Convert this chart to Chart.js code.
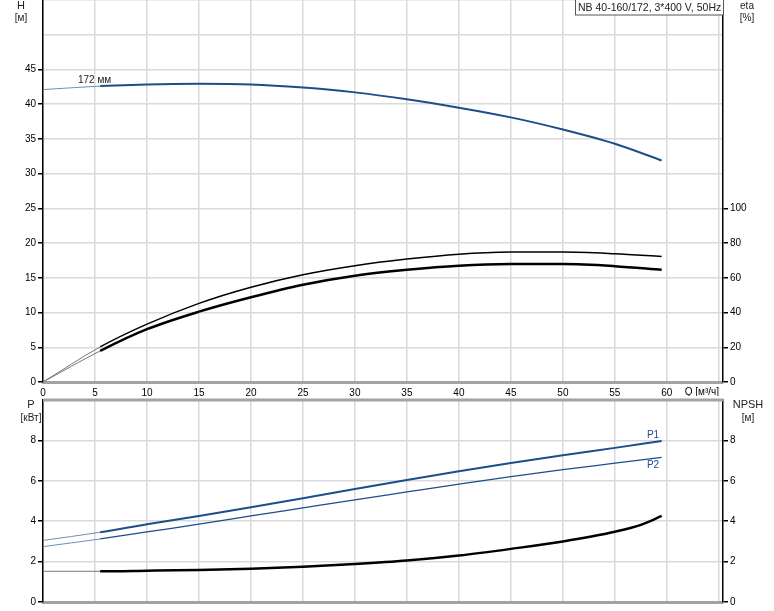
<!DOCTYPE html>
<html>
<head>
<meta charset="utf-8">
<script src="https://cdn.jsdelivr.net/npm/chart.js@4"></script>
<style>
  body { margin: 0; background: #fff; }
  #wrap { position: relative; width: 774px; height: 611px; }
  #top { position: absolute; left: 0; top: 0; }
  #bottom { position: absolute; left: 0; top: 396px; }
</style>
</head>
<body>
<div id="wrap">
  <canvas id="top" width="774" height="396"></canvas>
  <canvas id="bottom" width="774" height="215"></canvas>
</div>
<script>
// flow values, m3/h
const qTop = [0, 5.5, 10, 15, 20, 25, 30, 35, 40, 45, 50, 55, 59.5];
const head = [42.1, 42.6, 42.85, 42.95, 42.85, 42.4, 41.7, 40.7, 39.5, 38.1, 36.35, 34.3, 31.9];
const etaUpper = [0, 20.2, 33.3, 45.3, 54.6, 61.8, 67, 70.8, 73.6, 74.8, 74.9, 73.9, 72.3];
const etaLower = [0, 17.9, 30.4, 40.5, 48.8, 56, 61.2, 64.6, 67, 67.9, 67.9, 66.7, 64.6];

const qBot = [0, 5.5, 10, 15, 20, 25, 30, 35, 40, 45, 50, 55, 59.5];
const p1 = [3.05, 3.45, 3.85, 4.26, 4.69, 5.14, 5.59, 6.04, 6.47, 6.88, 7.27, 7.63, 7.97];
const p2 = [2.74, 3.12, 3.47, 3.85, 4.26, 4.66, 5.06, 5.45, 5.84, 6.21, 6.55, 6.87, 7.16];

const qNpsh = [0, 5.5, 10, 15, 20, 25, 30, 35, 40, 45, 50, 55, 57.5, 59.5];
const npsh = [1.52, 1.52, 1.55, 1.59, 1.65, 1.75, 1.88, 2.05, 2.3, 2.63, 3.0, 3.48, 3.82, 4.26];

const xTicks = [0, 5, 10, 15, 20, 25, 30, 35, 40, 45, 50, 55, 60];
const hTicks = [0, 5, 10, 15, 20, 25, 30, 35, 40, 45];
const etaTicks = [0, 20, 40, 60, 80, 100];
const pTicks = [0, 2, 4, 6, 8];

const FONT = "Liberation Sans, Arial, sans-serif";
const BLUE = "#1c4e8a";
const GRID = "#dadada";

function pts(xs, ys) {
    return xs.map((x, i) => ({x: x, y: ys[i]}));
}

// thin line before the first operating point, thick after
function curve(xs, ys, color, thin, thick, axis) {
    return {
        data: pts(xs, ys),
        yAxisID: axis,
        borderColor: color,
        borderWidth: thick,
        pointRadius: 0,
        fill: false,
        cubicInterpolationMode: 'monotone',
        segment: {
            borderWidth: c => c.p0DataIndex === 0 ? thin : thick,
            borderColor: c => c.p0DataIndex === 0 ? (color === "#000" ? "#777" : "#6d8fb8") : color
        }
    };
}

function texts(items, extra) {
    return {
        id: 'texts',
        afterDraw(chart) {
            const c = chart.ctx;
            c.save();
            if (extra) extra(chart, c);
            items.forEach(t => {
                c.font = (t.size || 10) + "px " + FONT;
                c.fillStyle = t.color || "#222";
                c.textAlign = t.align || "center";
                c.textBaseline = "middle";
                c.fillText(t.text, t.x, t.y);
            });
            c.restore();
        }
    };
}

function xScale(showLabels) {
    return {
        type: 'linear',
        min: 0,
        max: 65.4,
        afterBuildTicks: s => { s.ticks = xTicks.concat([65]).map(v => ({value: v})); },
        afterFit: s => {
            s.height = showLabels ? 14 : 9;
            s.paddingLeft = 0;
            s.paddingRight = 0;
        },
        grid: { color: GRID, lineWidth: 1.5, drawTicks: false },
        border: { color: "#a3a3a3", width: 3 },
        ticks: {
            display: showLabels,
            padding: 5,
            color: "#000",
            font: { family: FONT, size: 10 },
            maxRotation: 0,
            callback: v => v <= 60 ? v : ''
        }
    };
}

function yScale(pos, max, list, grid, width) {
    return {
        type: 'linear',
        position: pos,
        min: 0,
        max: max,
        afterBuildTicks: s => {
            s.ticks = grid ? grid.map(v => ({value: v})) : list.map(v => ({value: v}));
        },
        afterFit: s => {
            s.width = width;
            s.paddingTop = 0;
            s.paddingBottom = 0;
        },
        grid: {
            color: GRID,
            lineWidth: 1.5,
            drawOnChartArea: !!grid,
            tickLength: 5,
            tickColor: c => list.includes(c.tick.value) ? "#000" : "rgba(0,0,0,0)"
        },
        border: { color: "#000", width: 1.5 },
        ticks: {
            padding: 2,
            color: "#000",
            font: { family: FONT, size: 10 },
            callback: v => list.includes(v) ? v : ''
        }
    };
}

new Chart(document.getElementById('top'), {
    type: 'line',
    data: {
        datasets: [
            curve(qTop, head, BLUE, 1, 2, 'y'),
            curve(qTop, etaUpper, "#000", 1, 1.5, 'eta'),
            curve(qTop, etaLower, "#000", 1, 2.5, 'eta')
        ]
    },
    options: {
        responsive: false,
        animation: false,
        layout: { padding: { top: 0, left: 0, right: 0, bottom: 0 } },
        plugins: { legend: { display: false }, tooltip: { enabled: false } },
        scales: {
            x: xScale(true),
            y: yScale('left', 55, hTicks, [0, 5, 10, 15, 20, 25, 30, 35, 40, 45, 50, 55], 43),
            eta: yScale('right', 220, etaTicks, null, 51)
        }
    },
    plugins: [texts([
        {text: "H", x: 21, y: 6, size: 11},
        {text: "[м]", x: 21, y: 18},
        {text: "eta", x: 747, y: 6},
        {text: "[%]", x: 747, y: 18},
        {text: "172 мм", x: 78, y: 80, align: "left"},
        {text: "Q [м³/ч]", x: 719, y: 392, align: "right", color: "#000"},
        {text: "NB 40-160/172, 3*400 V, 50Hz", x: 578, y: 8, align: "left", size: 10.5}
    ], (chart, c) => {
        c.fillStyle = "#fff";
        c.fillRect(575, 0, 148, 15);
        c.strokeStyle = "#555";
        c.lineWidth = 1;
        c.strokeRect(575.5, -0.5, 148, 15.5);
    })]
});

new Chart(document.getElementById('bottom'), {
    type: 'line',
    data: {
        datasets: [
            curve(qBot, p1, BLUE, 1, 2, 'y'),
            curve(qBot, p2, BLUE, 1, 1.3, 'y'),
            curve(qNpsh, npsh, "#000", 1, 2.5, 'npsh')
        ]
    },
    options: {
        responsive: false,
        animation: false,
        layout: { padding: { top: 4 } },
        plugins: { legend: { display: false }, tooltip: { enabled: false } },
        scales: {
            x: xScale(false),
            y: yScale('left', 10, pTicks, [0, 2, 4, 6, 8, 10], 43),
            npsh: yScale('right', 10, pTicks, null, 51)
        }
    },
    plugins: [texts([
        {text: "P", x: 31, y: 9, size: 11},
        {text: "[кВт]", x: 31, y: 22},
        {text: "NPSH", x: 748, y: 9, size: 11},
        {text: "[м]", x: 748, y: 22},
        {text: "P1", x: 653, y: 39, color: BLUE},
        {text: "P2", x: 653, y: 69, color: BLUE}
    ], (chart, c) => {
        const a = chart.chartArea;
        c.strokeStyle = "#a3a3a3";
        c.lineWidth = 3;
        c.beginPath();
        c.moveTo(a.left, a.top);
        c.lineTo(a.right, a.top);
        c.stroke();
    })]
});
</script>
</body>
</html>
